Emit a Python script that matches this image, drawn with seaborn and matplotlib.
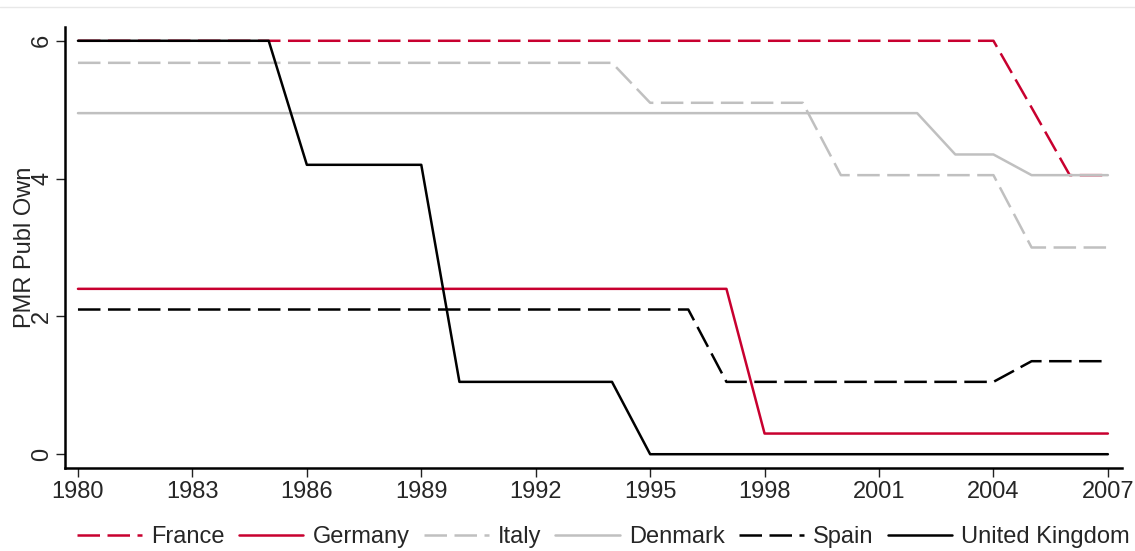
import pandas as pd
import seaborn as sns
import matplotlib.pyplot as plt
from matplotlib.lines import Line2D

# Data (PMR public ownership index)
years = list(range(1980, 2008))
france = [6, 6, 6, 6, 6, 6, 6, 6, 6, 6, 6, 6, 6, 6, 6, 6, 6, 6, 6, 6,
          6, 6, 6, 6, 6, 5.03, 4.05, 4.05]
germany = [2.4, 2.4, 2.4, 2.4, 2.4, 2.4, 2.4, 2.4, 2.4, 2.4, 2.4, 2.4, 2.4, 2.4,
           2.4, 2.4, 2.4, 2.4, 0.3, 0.3, 0.3, 0.3, 0.3, 0.3, 0.3, 0.3, 0.3, 0.3]
italy = [5.68, 5.68, 5.68, 5.68, 5.68, 5.68, 5.68, 5.68, 5.68, 5.68, 5.68, 5.68,
         5.68, 5.68, 5.68, 5.1, 5.1, 5.1, 5.1, 5.1, 4.05, 4.05, 4.05, 4.05, 4.05,
         3.0, 3.0, 3.0]
denmark = [4.95, 4.95, 4.95, 4.95, 4.95, 4.95, 4.95, 4.95, 4.95, 4.95, 4.95, 4.95,
           4.95, 4.95, 4.95, 4.95, 4.95, 4.95, 4.95, 4.95, 4.95, 4.95, 4.95, 4.35,
           4.35, 4.05, 4.05, 4.05]
spain = [2.1, 2.1, 2.1, 2.1, 2.1, 2.1, 2.1, 2.1, 2.1, 2.1, 2.1, 2.1, 2.1, 2.1, 2.1,
         2.1, 2.1, 1.05, 1.05, 1.05, 1.05, 1.05, 1.05, 1.05, 1.05, 1.35, 1.35, 1.35]
uk = [6, 6, 6, 6, 6, 6, 4.2, 4.2, 4.2, 4.2, 1.05, 1.05, 1.05, 1.05, 1.05,
      0, 0, 0, 0, 0, 0, 0, 0, 0, 0, 0, 0, 0]

countries = ["France", "Germany", "Italy", "Denmark", "Spain", "United Kingdom"]
series = [france, germany, italy, denmark, spain, uk]

red = "#C8002F"
grey = "#C0C0C0"
palette = {"France": red, "Germany": red, "Italy": grey, "Denmark": grey,
           "Spain": "black", "United Kingdom": "black"}
dash = (9, 3)
dashes = {"France": dash, "Germany": "", "Italy": dash, "Denmark": "",
          "Spain": dash, "United Kingdom": ""}

df = pd.concat([pd.DataFrame({"year": years, "value": v, "country": c})
                for c, v in zip(countries, series)], ignore_index=True)

sns.set_style("white")
plt.rcParams["font.family"] = ["Liberation Sans", "DejaVu Sans"]
fs = 17
lw = 1.8

W, H = 1135, 551
fig = plt.figure(figsize=(W / 100, H / 100), dpi=100)
ax = fig.add_axes([65 / W, 1 - 468 / H, (1122 - 65) / W, (468 - 27) / H])

sns.lineplot(data=df, x="year", y="value", hue="country", style="country",
             hue_order=countries, style_order=countries, palette=palette,
             dashes=dashes, linewidth=lw, ax=ax, legend=False)

ax.set_xlim(1979.66, 2007.37)
ax.set_ylim(-0.2, 6.2)
ax.set_xticks(range(1980, 2008, 3))
ax.set_yticks([0, 2, 4, 6])
ax.set_yticklabels(["0", "2", "4", "6"], rotation=90, va="center")
ax.tick_params(axis="both", labelsize=fs, length=6.5, width=1.0, color="#222222",
               direction="out", bottom=True, left=True)
ax.tick_params(axis="y", pad=2)
ax.tick_params(axis="x", pad=3)
for s in ["top", "right"]:
    ax.spines[s].set_visible(False)
for s in ["left", "bottom"]:
    ax.spines[s].set_color("black")
    ax.spines[s].set_linewidth(1.8)
ax.set_xlabel("")
ax.set_ylabel("PMR Publ Own", fontsize=fs)
ax.yaxis.set_label_coords((25 - 65) / (1122 - 65), 0.5)
ax.yaxis.label.set_va("center")

# legend in one row under the axis
handles = []
for c in countries:
    h = Line2D([0], [0], color=palette[c], lw=lw)
    if dashes[c]:
        h.set_dashes(dash)
    handles.append(h)
fig.legend(handles, countries, loc="center", bbox_to_anchor=(603.5 / W, 1 - 537 / H),
           ncol=6, frameon=False, fontsize=fs, handlelength=2.75,
           columnspacing=0.6, handletextpad=0.38, borderpad=0, borderaxespad=0)

fig.add_artist(Line2D([0, 1], [1 - 7 / H, 1 - 7 / H], color="#E8E8E8", lw=1))

fig.savefig("out.png", dpi=100)
